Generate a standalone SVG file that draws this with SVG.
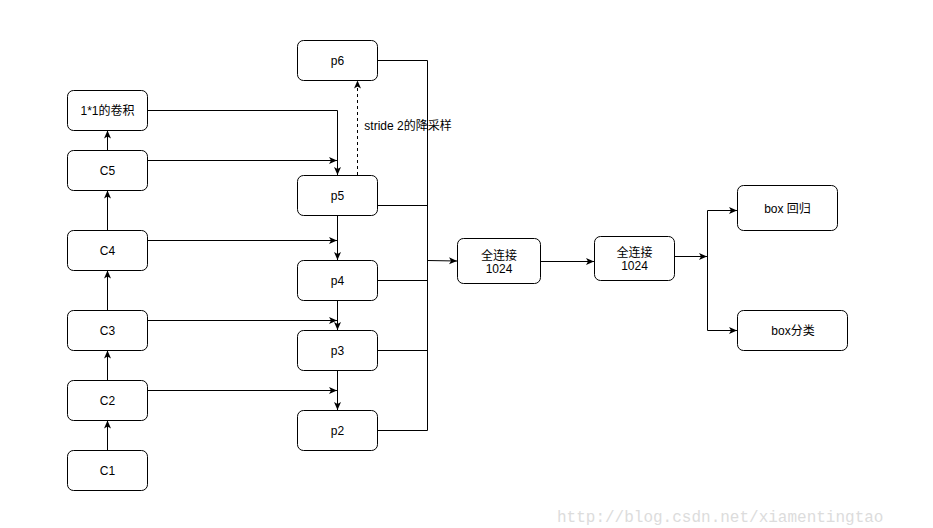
<svg xmlns="http://www.w3.org/2000/svg" width="933" height="528" viewBox="0 0 933 528">
<style>
.box{fill:#fff;stroke:#000;stroke-width:1}
.lbl{font-family:"Liberation Sans","Noto Sans CJK SC",sans-serif;font-size:12px;fill:#000;text-anchor:middle;dominant-baseline:central}
.ln{fill:none;stroke:#000;stroke-width:1}
.ar{marker-end:url(#ah)}
.wm{font-family:"Liberation Mono",monospace;font-size:16px;fill:#dcdcdc}
</style>
<defs>
<marker id="ah" markerUnits="userSpaceOnUse" markerWidth="10" markerHeight="8" refX="8" refY="3.5" orient="auto" viewBox="0 0 10 8">
<path d="M0,0 L8,3.5 L0,7 L2,3.5 z" fill="#000"/>
</marker>
</defs>
<rect width="933" height="528" fill="#fff"/>
<g id="connectors">
<path class="ln ar" d="M107.5,450 V420.5"/>
<path class="ln ar" d="M107.5,380 V350.5"/>
<path class="ln ar" d="M107.5,310 V270.5"/>
<path class="ln ar" d="M107.5,230 V190.5"/>
<path class="ln ar" d="M107.5,150 V130.5"/>
<path class="ln ar" d="M147,110.5 H337.5 V175"/>
<path class="ln ar" d="M147,160.5 H337"/>
<path class="ln ar" d="M147,240.5 H337"/>
<path class="ln ar" d="M147,320.5 H337"/>
<path class="ln ar" d="M147,390.5 H337"/>
<path class="ln ar" d="M337.5,215 V260"/>
<path class="ln ar" d="M337.5,300 V330"/>
<path class="ln ar" d="M337.5,370 V410"/>
<path class="ln ar" d="M357.5,175 V80.5" stroke-dasharray="3,3"/>
<path class="ln" d="M377,60.5 H427.5 V430.5 H377"/>
<path class="ln" d="M377,205.5 H427.5"/>
<path class="ln" d="M377,280.5 H427.5"/>
<path class="ln" d="M377,350.5 H427.5"/>
<path class="ln ar" d="M427.5,260.5 L457,261"/>
<path class="ln ar" d="M540,261.5 H594"/>
<path class="ln ar" d="M674,256.5 H707"/>
<path class="ln" d="M707.5,210.5 V330.5"/>
<path class="ln ar" d="M707.5,210.5 H737"/>
<path class="ln ar" d="M707.5,330.5 H737"/>
</g>
<g id="c1"><rect class="box" x="67.5" y="450.5" width="80" height="40" rx="6"/><text class="lbl" x="107.5" y="470.5">C1</text></g>
<g id="c2"><rect class="box" x="67.5" y="380.5" width="80" height="40" rx="6"/><text class="lbl" x="107.5" y="400.5">C2</text></g>
<g id="c3"><rect class="box" x="67.5" y="310.5" width="80" height="40" rx="6"/><text class="lbl" x="107.5" y="330.5">C3</text></g>
<g id="c4"><rect class="box" x="67.5" y="230.5" width="80" height="40" rx="6"/><text class="lbl" x="107.5" y="250.5">C4</text></g>
<g id="c5"><rect class="box" x="67.5" y="150.5" width="80" height="40" rx="6"/><text class="lbl" x="107.5" y="170.5">C5</text></g>
<g id="conv"><rect class="box" x="67.5" y="90.5" width="80" height="40" rx="6"/><text class="lbl" x="107.5" y="110.5">1*1的卷积</text></g>
<g id="p6"><rect class="box" x="297.5" y="40.5" width="80" height="40" rx="6"/><text class="lbl" x="337.5" y="60.5">p6</text></g>
<g id="p5"><rect class="box" x="297.5" y="175.5" width="80" height="40" rx="6"/><text class="lbl" x="337.5" y="195.5">p5</text></g>
<g id="p4"><rect class="box" x="297.5" y="260.5" width="80" height="40" rx="6"/><text class="lbl" x="337.5" y="280.5">p4</text></g>
<g id="p3"><rect class="box" x="297.5" y="330.5" width="80" height="40" rx="6"/><text class="lbl" x="337.5" y="350.5">p3</text></g>
<g id="p2"><rect class="box" x="297.5" y="410.5" width="80" height="40" rx="6"/><text class="lbl" x="337.5" y="430.5">p2</text></g>
<g id="stride-label"><text class="lbl" x="408" y="126">stride 2的降采样</text></g>
<g id="fc1"><rect class="box" x="457.5" y="238.5" width="83" height="45" rx="6"/><text class="lbl" x="499" y="255.5">全连接</text><text class="lbl" x="499" y="268.5">1024</text></g>
<g id="fc2"><rect class="box" x="594.5" y="236.5" width="80" height="44" rx="6"/><text class="lbl" x="634.5" y="252.5">全连接</text><text class="lbl" x="634.5" y="265.5">1024</text></g>
<g id="box-reg"><rect class="box" x="737.5" y="185.5" width="100" height="45" rx="6"/><text class="lbl" x="787.5" y="209">box 回归</text></g>
<g id="box-cls"><rect class="box" x="737.5" y="310.5" width="110" height="40" rx="6"/><text class="lbl" x="793" y="331">box分类</text></g>
<text class="wm" x="557" y="522">http://blog.csdn.net/xiamentingtao</text>
</svg>
